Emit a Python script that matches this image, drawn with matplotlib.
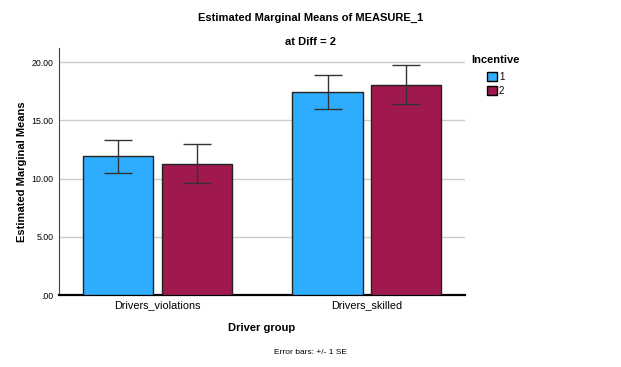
import matplotlib
matplotlib.use("Agg")
from matplotlib import pyplot as plt
from matplotlib.patches import Rectangle
import numpy as np

groups = ["Drivers_violations", "Drivers_skilled"]
incentive = ["1", "2"]
means_1 = [11.90, 17.42]
means_2 = [11.27, 18.05]
se_1 = [1.43, 1.44]
se_2 = [1.68, 1.68]
colors = ["#2EADFF", "#A0194E"]

plt.rcParams["font.family"] = ["Liberation Sans", "DejaVu Sans"]

fig = plt.figure(figsize=(6.21, 3.67), dpi=100)
ax = fig.add_axes([0.095, 0.196, 0.654, 0.673])

x = np.arange(len(groups))
w = 0.335
off = 0.187
err_kw = dict(ecolor="#333333", elinewidth=1, capsize=10, capthick=1)
ax.bar(x - off, means_1, w, color=colors[0], edgecolor="#222222",
       linewidth=1, yerr=se_1, error_kw=err_kw, zorder=3)
ax.bar(x + off, means_2, w, color=colors[1], edgecolor="#222222",
       linewidth=1, yerr=se_2, error_kw=err_kw, zorder=3)

ax.set_xlim(-0.471, 1.471)
ax.set_ylim(0, 21.2)
ax.set_yticks([0, 5, 10, 15, 20])
ax.set_yticklabels([".00", "5.00", "10.00", "15.00", "20.00"], fontsize=6.3)
ax.set_xticks(x)
ax.set_xticklabels(groups, fontsize=7.8)
ax.tick_params(length=0, pad=4)
ax.yaxis.grid(True, color="#cccccc", linewidth=1)
ax.set_axisbelow(True)
for s in ["top", "right"]:
    ax.spines[s].set_visible(False)
ax.spines["left"].set_color("#444444")
ax.spines["bottom"].set_linewidth(1.6)
ax.spines["bottom"].set_color("black")

ax.set_xlabel("Driver group", fontsize=8, fontweight="bold", labelpad=9)
ax.set_ylabel("Estimated Marginal Means", fontsize=8, fontweight="bold", labelpad=3)

fig.text(0.5, 0.951, "Estimated Marginal Means of MEASURE_1", ha="center",
         va="center", fontsize=8, fontweight="bold")
fig.text(0.5, 0.886, "at Diff = 2", ha="center", va="center",
         fontsize=8, fontweight="bold")
fig.text(0.5, 0.04, "Error bars: +/- 1 SE", ha="center", va="center", fontsize=6)

# legend drawn by hand to match the indented layout
fig.text(471 / 621, 1 - 60 / 367, "Incentive", ha="left", va="center",
         fontsize=8, fontweight="bold")
for i, (lab, c) in enumerate(zip(incentive, colors)):
    yc = 1 - (76.5 + 14 * i) / 367
    fig.patches.append(Rectangle((487 / 621, yc - 4.5 / 367), 10 / 621, 9 / 367,
                                 facecolor=c, edgecolor="black", linewidth=1,
                                 transform=fig.transFigure, figure=fig))
    fig.text(499 / 621, yc, lab, ha="left", va="center", fontsize=7)

fig.savefig("out.png", dpi=100)
